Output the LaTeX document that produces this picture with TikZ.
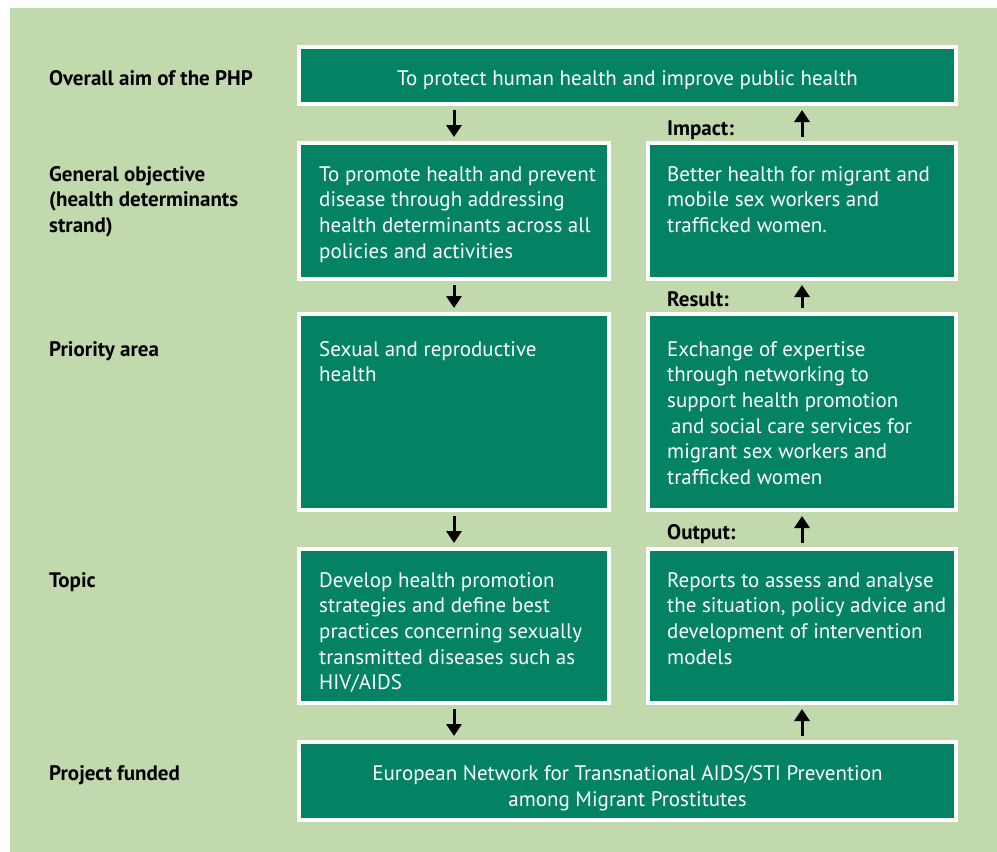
\documentclass[tikz,border=0pt]{standalone}
\usepackage{fontspec}
\setmainfont{PT Sans}
\usetikzlibrary{arrows.meta}
\definecolor{bggreen}{RGB}{194,216,173}
\definecolor{boxgreen}{RGB}{3,131,100}
\begin{document}
\begin{tikzpicture}[x=1pt,y=-1pt,
  box/.style={draw=white, line width=4pt, fill=boxgreen, inner sep=0pt, anchor=north west},
  btext/.style={text=white, font=\fontsize{21}{25.7}\selectfont, align=left, inner sep=0pt},
  ltext/.style={text=black, font=\bfseries\fontsize{21}{25.7}\selectfont, align=left, inner sep=0pt},
  arr/.style={line width=3pt, -{Triangle[width=15pt,length=12pt]}, shorten <=4pt, shorten >=4pt}]
\fill[white] (0,0) rectangle (997,852);
\fill[bggreen] (10,8) rectangle (997,852);
\useasboundingbox (0,0) rectangle (997,852);
% boxes
\node[box, minimum width=657pt, minimum height=57pt] (aim) at (297,45) {};
\node[box, minimum width=310pt, minimum height=136pt] (gen) at (297,141) {};
\node[box, minimum width=308pt, minimum height=136pt] (imp) at (646,141) {};
\node[box, minimum width=310pt, minimum height=196pt] (pri) at (297,312) {};
\node[box, minimum width=308pt, minimum height=196pt] (res) at (646,312) {};
\node[box, minimum width=310pt, minimum height=154pt] (topic) at (297,547) {};
\node[box, minimum width=308pt, minimum height=154pt] (outp) at (646,547) {};
\node[box, minimum width=657pt, minimum height=78pt] (proj) at (297,740) {};
% left labels
\node[ltext, anchor=base west] (l1) at (49,85) {Overall aim of the PHP};
\node[ltext, anchor=north west] (l2) at (49,163) {\strut General objective\\(health determinants\\strand)};
\node[ltext, anchor=base west] (l3) at (49,356) {Priority area};
\node[ltext, anchor=base west] (l4) at (49,587) {Topic};
\node[ltext, anchor=base west] (l5) at (49,780) {Project funded};
% texts in boxes
\node[btext, anchor=base] (t1) at (627.5,85) {To protect human health and improve public health};
\node[btext, anchor=north west] (t2) at (319,163) {\strut To promote health and prevent\\disease through addressing\\health determinants across all\\policies and activities};
\node[btext, anchor=north west] (t3) at (667,163) {\strut Better health for migrant and\\mobile sex workers and\\trafficked women.};
\node[btext, anchor=north west] (t4) at (319,338) {\strut Sexual and reproductive\\health};
\node[btext, anchor=north west] (t5) at (667,338) {\strut Exchange of expertise\\through networking to\\support health promotion\\\hspace*{4pt}and social care services for\\migrant sex workers and\\trafficked women};
\node[btext, anchor=north west] (t6) at (319,569) {\strut Develop health promotion\\strategies and define best\\practices concerning sexually\\transmitted diseases such as\\HIV/AIDS};
\node[btext, anchor=north west] (t7) at (667,569) {\strut Reports to assess and analyse\\the situation, policy advice and\\development of intervention\\models};
\node[btext, align=center, anchor=north, font=\fontsize{21}{26.5}\selectfont] (t8) at (627.5,761.5) {\strut European Network for Transnational AIDS/STI Prevention\\among Migrant Prostitutes};
% result labels
\node[ltext, anchor=base west] (k1) at (667,135) {Impact:};
\node[ltext, anchor=base west] (k2) at (667,306) {Result:};
\node[ltext, anchor=base west] (k3) at (667,539) {Output:};
% arrows
\coordinate (lx) at (454,0);
\coordinate (rx) at (802,0);
\draw[arr] (aim.south -| lx) -- (gen.north -| lx);
\draw[arr] (gen.south -| lx) -- (pri.north -| lx);
\draw[arr] (pri.south -| lx) -- (topic.north -| lx);
\draw[arr] (topic.south -| lx) -- (proj.north -| lx);
\draw[arr] (proj.north -| rx) -- (outp.south -| rx);
\draw[arr] (outp.north -| rx) -- (res.south -| rx);
\draw[arr] (res.north -| rx) -- (imp.south -| rx);
\draw[arr] (imp.north -| rx) -- (aim.south -| rx);
\end{tikzpicture}
\end{document}
